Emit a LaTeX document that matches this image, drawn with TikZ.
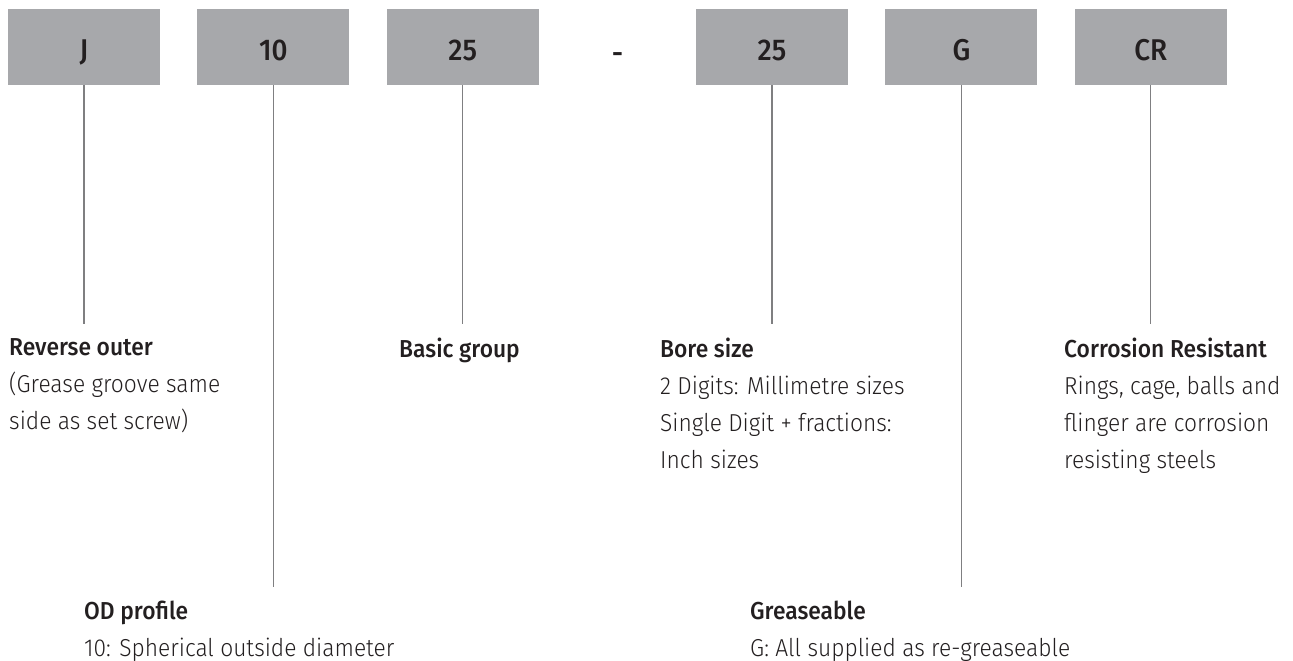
\documentclass[tikz,border=0pt]{standalone}
\usepackage{fontspec}
\setmainfont{Fira Sans}[UprightFont={* Light},BoldFont={* Medium},FakeStretch=0.93]
\usepackage{tikz}
\usetikzlibrary{positioning,calc}
\definecolor{boxgray}{HTML}{A7A8AB}
\definecolor{leadgray}{HTML}{7F7F81}
\definecolor{inkdark}{HTML}{231F20}
\tikzset{
 codebox/.style={fill=boxgray,minimum width=152pt,minimum height=76pt,inner sep=0pt,
   text height=27pt,text depth=0pt,text=inkdark,font=\fontsize{30}{30}\selectfont\bfseries},
 leadline/.style={draw=leadgray,line width=1.1pt},
 desc/.style={anchor=north west,align=left,inner sep=0pt,text=inkdark,
   font=\fontsize{24.5}{37}\selectfont}
}
\begin{document}
\begin{tikzpicture}[x=1pt,y=-1pt]
 \useasboundingbox (0,0) rectangle (1293,661);
 \node[codebox] (rev) at (84,47) {J};
 \node[codebox,right=37pt of rev] (od) {10};
 \node[codebox,right=37pt of od] (basic) {25};
 \node[codebox] (bore) at (772,47) {25};
 \node[codebox,right=37pt of bore] (grease) {G};
 \node[codebox,right=37pt of grease] (cr) {CR};
 \node[text=inkdark,font=\fontsize{30}{30}\selectfont\bfseries] (dash) at ($(basic.east)!0.5!(bore.west)+(0,11)$) {-};
 % lead line ends
 \coordinate (revend) at ($(rev.south)+(0,239)$);
 \coordinate (odend) at ($(od.south)+(0,502)$);
 \coordinate (basicend) at ($(basic.south)+(0,239)$);
 \coordinate (boreend) at ($(bore.south)+(0,239)$);
 \coordinate (greaseend) at ($(grease.south)+(0,502)$);
 \coordinate (crend) at ($(cr.south)+(0,239)$);
 \draw[leadline] (rev.south)--(revend);
 \draw[leadline] (od.south)--(odend);
 \draw[leadline] (basic.south)--(basicend);
 \draw[leadline] (bore.south)--(boreend);
 \draw[leadline] (grease.south)--(greaseend);
 \draw[leadline] (cr.south)--(crend);
 % descriptions
 \node[desc] (revtxt) at (9,338) {{\bfseries Reverse outer}\\(Grease groove same\\side as set screw)};
 \node[desc] (basictxt) at (399,338) {{\bfseries Basic group}};
 \node[desc] (boretxt) at (660,338) {{\bfseries Bore size}\\2 Digits: Millimetre sizes\\Single Digit + fractions:\\Inch sizes};
 \node[desc] (crtxt) at (1064,338) {{\bfseries Corrosion Resistant}\\Rings, cage, balls and\\flinger are corrosion\\resisting steels};
 \node[desc] (odtxt) at (84,601) {{\bfseries OD profile}\\10: Spherical outside diameter};
 \node[desc] (greasetxt) at (750,601) {{\bfseries Greaseable}\\G: All supplied as re-greaseable};
\end{tikzpicture}
\end{document}
